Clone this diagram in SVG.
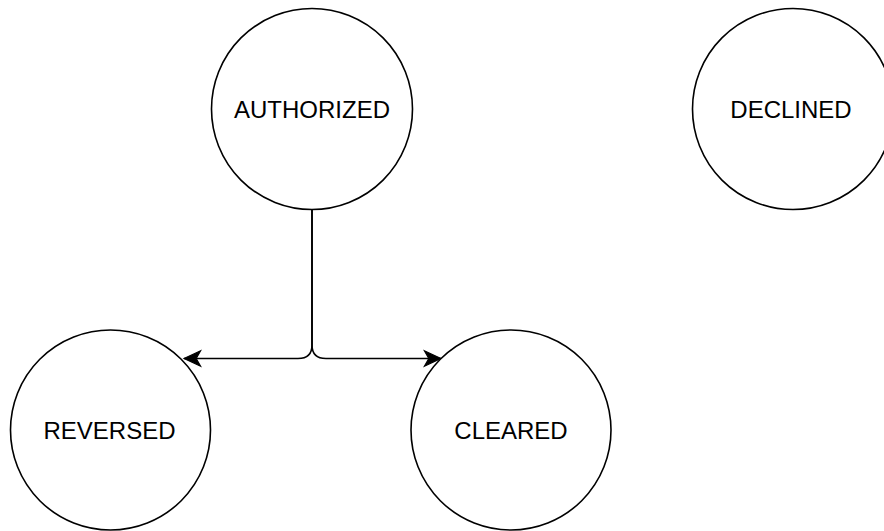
<svg xmlns="http://www.w3.org/2000/svg" width="884" height="531" viewBox="0 0 884 531">
<style>
.node{fill:#ffffff;stroke:#000000;stroke-width:1.6}
.label{font-family:"Liberation Sans",Arial,sans-serif;font-size:24px;fill:#000000;text-anchor:middle}
.edge{fill:none;stroke:#000000;stroke-width:1.6}
</style>
<defs>
<marker id="arrow" markerUnits="userSpaceOnUse" markerWidth="20" markerHeight="20" viewBox="-1 -8 18 16" refX="15" refY="0" orient="auto">
<path d="M0,-7 L15,0 L0,7 L4,0 Z" fill="#000000" stroke="#000000" stroke-width="1"/>
</marker>
</defs>
<rect width="884" height="531" fill="#ffffff"/>
<g id="connectors">
<path class="edge" d="M312,210 L312,345 Q312,358.5 298,358.5 L184,358.5" marker-end="url(#arrow)"/>
<path class="edge" d="M312,210 L312,345 Q312,358.5 326,358.5 L441,358.5" marker-end="url(#arrow)"/>
</g>
<g id="authorized">
<circle class="node" cx="312" cy="109" r="100.5"/>
<text class="label" x="312" y="117.6">AUTHORIZED</text>
</g>
<g id="declined">
<circle class="node" cx="793" cy="109" r="100.5"/>
<text class="label" x="791" y="117.6">DECLINED</text>
</g>
<g id="reversed">
<circle class="node" cx="110.5" cy="430" r="100"/>
<text class="label" x="109.5" y="439">REVERSED</text>
</g>
<g id="cleared">
<circle class="node" cx="511" cy="430" r="100"/>
<text class="label" x="511" y="439">CLEARED</text>
</g>
</svg>
